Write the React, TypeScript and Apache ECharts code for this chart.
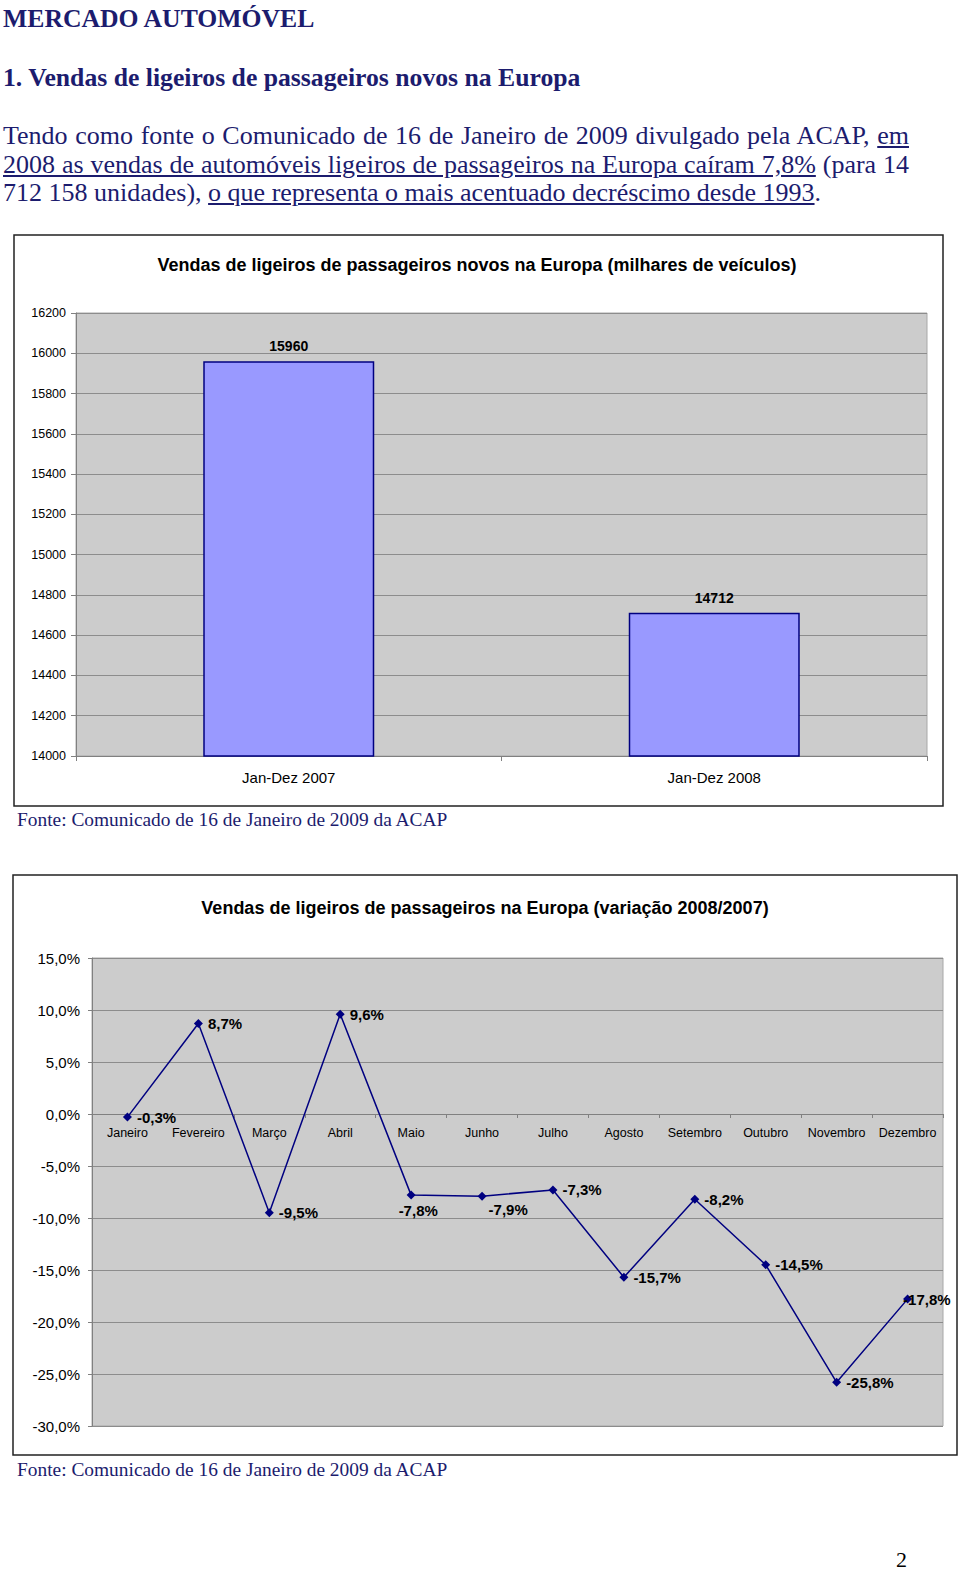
import React, { useEffect, useRef } from "react";
import * as echarts from "echarts";

// ---------- data ----------
const periods = ["Jan-Dez 2007", "Jan-Dez 2008"];
const salesThousands = [15960, 14712];
const salesTicks = [14000, 14200, 14400, 14600, 14800, 15000, 15200, 15400, 15600, 15800, 16000, 16200];

const months = [
  "Janeiro", "Fevereiro", "Março", "Abril", "Maio", "Junho",
  "Julho", "Agosto", "Setembro", "Outubro", "Novembro", "Dezembro",
];
const variation = [-0.3, 8.7, -9.5, 9.6, -7.8, -7.9, -7.3, -15.7, -8.2, -14.5, -25.8, -17.8];
const variationTicks = [-30, -25, -20, -15, -10, -5, 0, 5, 10, 15];

const chart1Title = "Vendas de ligeiros de passageiros novos na Europa (milhares de veículos)";
const chart2Title = "Vendas de ligeiros de passageiros na Europa (variação 2008/2007)";
const sourceText = "Fonte: Comunicado de 16 de Janeiro de 2009 da ACAP";

// ---------- styles ----------
const SANS = '"Liberation Sans", Arial, sans-serif';
const SERIF = '"Liberation Serif", "Times New Roman", serif';
const NAVY = "#1c1c6e";

// per-point label nudges (style only)
const labelNudges: Record<number, number[]> = {
  4: [-22, 15],
  5: [-3, 13],
  11: [-14, 0],
};

const pct = (v: number) => v.toFixed(1).replace(".", ",") + "%";

function useChart(option: any, after?: (c: any) => void) {
  const ref = useRef<HTMLDivElement>(null);
  useEffect(() => {
    if (!ref.current) return;
    const c = echarts.init(ref.current, undefined, { renderer: "svg" });
    c.setOption(option);
    if (after) after(c);
    return () => c.dispose();
  }, []);
  return ref;
}

function BarChart() {
  const W = 931, H = 573;
  const option = {
    animation: false,
    grid: {
      left: 63, top: 79, right: 17, bottom: 51, show: true,
      backgroundColor: "#CCCCCC", borderColor: "#A8A8A8", borderWidth: 1,
    },
    xAxis: {
      type: "category",
      data: periods,
      axisLine: { lineStyle: { color: "#808080", width: 1 } },
      axisTick: { show: true, length: 5, lineStyle: { color: "#808080" } },
      axisLabel: { color: "#000", fontSize: 15, fontFamily: SANS, margin: 14 },
    },
    yAxis: {
      type: "value",
      min: salesTicks[0],
      max: salesTicks[salesTicks.length - 1],
      interval: salesTicks[1] - salesTicks[0],
      axisLine: { show: true, lineStyle: { color: "#808080", width: 1 } },
      axisTick: { show: true, length: 5, lineStyle: { color: "#808080" } },
      splitLine: { lineStyle: { color: "#8C8C8C", width: 1 } },
      axisLabel: {
        color: "#000", fontSize: 12.5, fontFamily: SANS, margin: 10,
        formatter: (v: number) => String(v),
      },
    },
    series: [
      {
        type: "bar",
        data: salesThousands,
        barWidth: 171,
        itemStyle: { color: "#9999FF", borderColor: "#000080", borderWidth: 1.5 },
        label: {
          show: true, position: "top", distance: 8,
          fontWeight: "bold", fontSize: 14, color: "#000", fontFamily: SANS,
        },
      },
    ],
    graphic: [
      {
        type: "rect", silent: true, z: 100,
        shape: { x: 1, y: 1, width: W - 2, height: H - 2 },
        style: { fill: "none", stroke: "#222", lineWidth: 1.5 },
      },
      {
        type: "text", x: 464, y: 31,
        style: {
          text: chart1Title, fontSize: 18, fontWeight: "bold", fontFamily: SANS,
          fill: "#000", align: "center", verticalAlign: "middle",
        },
      },
    ],
  };
  const ref = useChart(option);
  return <div ref={ref} style={{ position: "absolute", left: 13, top: 234, width: W, height: H }} />;
}

function LineChart() {
  const W = 946, H = 582;
  const yMin = variationTicks[0];
  const option = {
    animation: false,
    grid: {
      left: 80, top: 84, right: 15, bottom: 30, show: true,
      backgroundColor: "#CCCCCC", borderColor: "#A8A8A8", borderWidth: 1,
    },
    xAxis: {
      type: "category",
      data: months,
      boundaryGap: true,
      axisLine: { onZero: false, lineStyle: { color: "#808080", width: 1 } },
      axisTick: { show: true, length: 4, lineStyle: { color: "#808080" } },
      axisLabel: { color: "#000", fontSize: 12.5, fontFamily: SANS, margin: 12, interval: 0 },
    },
    yAxis: {
      type: "value",
      min: yMin,
      max: variationTicks[variationTicks.length - 1],
      interval: variationTicks[1] - variationTicks[0],
      axisLine: { show: true, lineStyle: { color: "#808080", width: 1 } },
      axisTick: { show: true, length: 4, lineStyle: { color: "#808080" } },
      splitLine: { lineStyle: { color: "#8C8C8C", width: 1 } },
      axisLabel: { color: "#000", fontSize: 15, fontFamily: SANS, margin: 12, formatter: (v: number) => pct(v) },
    },
    series: [
      {
        type: "line",
        data: variation.map((v, i) => {
          const n = labelNudges[i];
          return n ? { value: v, label: { offset: n } } : v;
        }),
        symbol: "diamond",
        symbolSize: 9,
        z: 3,
        lineStyle: { color: "#000080", width: 1.5 },
        itemStyle: { color: "#000080" },
        label: {
          show: true, position: "right", distance: 5,
          fontWeight: "bold", fontSize: 15, color: "#000", fontFamily: SANS,
          formatter: (p: any) => pct(p.value),
        },
      },
    ],
    graphic: [
      {
        type: "rect", silent: true, z: 100,
        shape: { x: 1, y: 1, width: W - 2, height: H - 2 },
        style: { fill: "none", stroke: "#222", lineWidth: 1.5 },
      },
      {
        type: "text", x: 473, y: 34,
        style: {
          text: chart2Title, fontSize: 18, fontWeight: "bold", fontFamily: SANS,
          fill: "#000", align: "center", verticalAlign: "middle",
        },
      },
    ],
  };
  // move the category axis up to the 0% line, using the value axis' own scale
  const ref = useChart(option, (c) => {
    const zeroPx = c.convertToPixel({ yAxisIndex: 0 }, 0);
    const bottomPx = c.convertToPixel({ yAxisIndex: 0 }, yMin);
    c.setOption({ xAxis: { offset: zeroPx - bottomPx } });
  });
  return <div ref={ref} style={{ position: "absolute", left: 12, top: 874, width: W, height: H }} />;
}

const line = (top: number, size: number, extra: any = {}) => ({
  position: "absolute" as const,
  left: 3,
  top,
  fontFamily: SERIF,
  fontSize: size,
  lineHeight: size + "px",
  color: NAVY,
  whiteSpace: "nowrap" as const,
  ...extra,
});

const u = { textDecoration: "underline", textDecorationColor: NAVY };

export default function App() {
  return (
    <div style={{ position: "absolute", left: 0, top: 0, width: 960, height: 1571, background: "#fff", overflow: "hidden" }}>
      <div style={line(5.5, 25.7, { fontWeight: "bold" })}>MERCADO AUTOMÓVEL</div>
      <div style={line(64.5, 25.7, { fontWeight: "bold" })}>1. Vendas de ligeiros de passageiros novos na Europa</div>
      <div style={line(123.2, 26, { width: 906, textAlign: "justify", textAlignLast: "justify", whiteSpace: "normal" })}>
        Tendo como fonte o Comunicado de 16 de Janeiro de 2009 divulgado pela ACAP, <span style={u}>em</span>
      </div>
      <div style={line(151.5, 26, { width: 906, textAlign: "justify", textAlignLast: "justify", whiteSpace: "normal" })}>
        <span style={u}>2008 as vendas de automóveis ligeiros de passageiros na Europa caíram 7,8%</span> (para 14
      </div>
      <div style={line(179.9, 26)}>
        712 158 unidades), <span style={u}>o que representa o mais acentuado decréscimo desde 1993</span>.
      </div>

      <BarChart />
      <div style={line(810, 19.4, { left: 17 })}>{sourceText}</div>

      <LineChart />
      <div style={line(1460, 19.4, { left: 17 })}>{sourceText}</div>

      <div style={line(1548.6, 22, { left: 896, color: "#000" })}>2</div>
    </div>
  );
}
